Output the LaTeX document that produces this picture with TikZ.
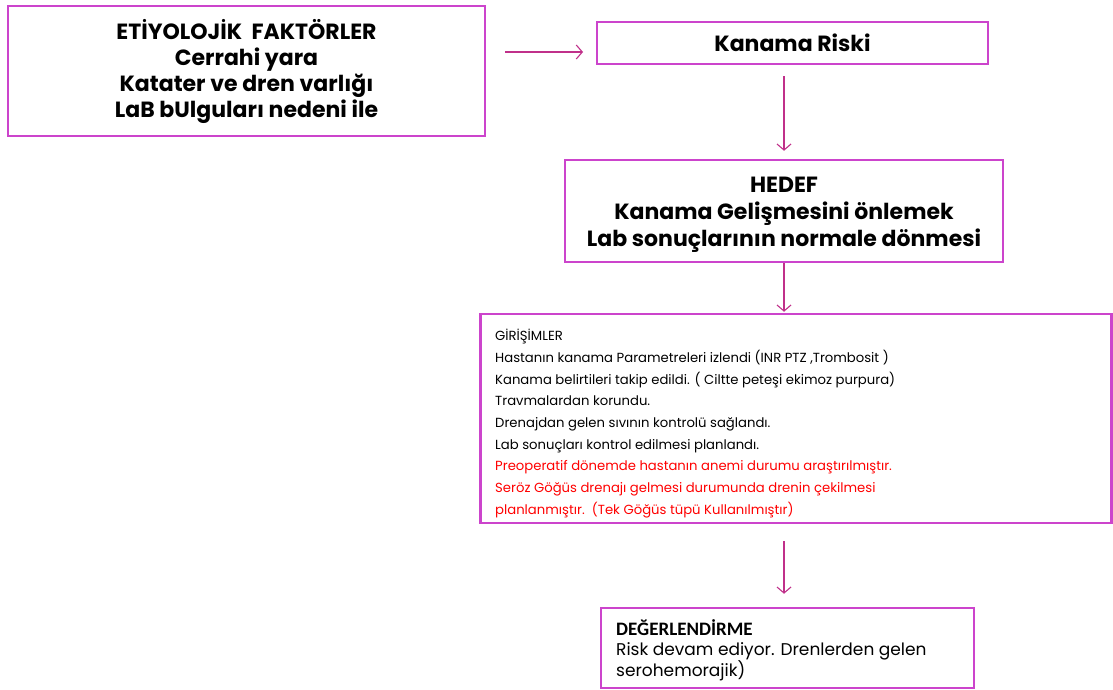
\documentclass[tikz,border=0pt]{standalone}
\usepackage{fontspec}
\setmainfont{Poppins}
\newfontfamily\calibfont{Carlito}
\usetikzlibrary{arrows.meta}
\definecolor{boxm}{HTML}{CC44CC}
\definecolor{arrc}{HTML}{C0308A}
\definecolor{redt}{HTML}{FF0000}
\tikzset{
  box/.style={draw=boxm, line width=2.5pt, inner sep=0pt, text=black},
  txt/.style={inner sep=0pt, anchor=north west, align=left, text=black},
  conn/.style={draw=arrc, line width=1.1pt, -{Straight Barb[length=6pt,width=14pt,line width=1.1pt]}},
  bigfont/.style={font=\bfseries\fontsize{22}{26}\selectfont},
  smallfont/.style={font=\fontsize{13.2}{21.7}\selectfont},
  evalfont/.style={font=\fontsize{17}{20.8}\selectfont}
}
\begin{document}
\begin{tikzpicture}[x=1pt,y=-1pt]
\useasboundingbox[fill=white] (0,0) rectangle (1113,690);
\node[box, bigfont, minimum width=477pt, minimum height=130pt, align=center] (etio) at (246.5,71)
  {ETİYOLOJİK\ \ FAKTÖRLER\\Cerrahi yara\\Katater ve dren varlığı\\LaB bUlguları nedeni ile};
\node[box, bigfont, minimum width=391pt, minimum height=42pt] (risk) at (792.5,43) {Kanama Riski};
\node[box, minimum width=438pt, minimum height=102pt] (hedef) at (784,211) {};
\node[inner sep=0pt, align=center, font=\bfseries\fontsize{22}{27}\selectfont] (hedeftext) at (784,215)
  {HEDEF\\Kanama Gelişmesini önlemek\\Lab sonuçlarının normale dönmesi};
\node[box, minimum width=631pt, minimum height=209pt] (giri) at (796,418.5) {};
\node[txt, smallfont] (giritext) at (495,329)
  {GİRİŞİMLER\\
   Hastanın kanama Parametreleri izlendi (INR PTZ ,Trombosit )\\
   Kanama belirtileri takip edildi. ( Ciltte peteşi ekimoz purpura)\\
   Travmalardan korundu.\\
   Drenajdan gelen sıvının kontrolü sağlandı.\\
   Lab sonuçları kontrol edilmesi planlandı.\\
   \textcolor{redt}{Preoperatif dönemde hastanın anemi durumu araştırılmıştır.}\\
   \textcolor{redt}{Seröz Göğüs drenajı gelmesi durumunda drenin çekilmesi}\\
   \textcolor{redt}{planlanmıştır.\ \ (Tek Göğüs tüpü Kullanılmıştır)}};
\node[box, minimum width=373pt, minimum height=80pt] (deger) at (787.5,648) {};
\node[txt, evalfont] (degertext) at (616,619)
  {{\calibfont\bfseries\fontsize{19}{20.8}\selectfont DEĞERLENDİRME}\\
   Risk devam ediyor. Drenlerden gelen\\
   serohemorajik)};
\coordinate (a1s) at (505,52);
\coordinate (a1e) at (583,52);
\draw[conn] (a1s) -- (a1e);
\draw[conn, shorten <=11pt, shorten >=8pt] (risk.south -| hedef.north) -- (hedef.north);
\draw[conn, shorten >=1pt] (hedef.south) -- (hedef.south |- giri.north);
\draw[conn, shorten <=17pt, shorten >=13pt] (hedef.south |- giri.south) -- (hedef.south |- deger.north);
\end{tikzpicture}
\end{document}
